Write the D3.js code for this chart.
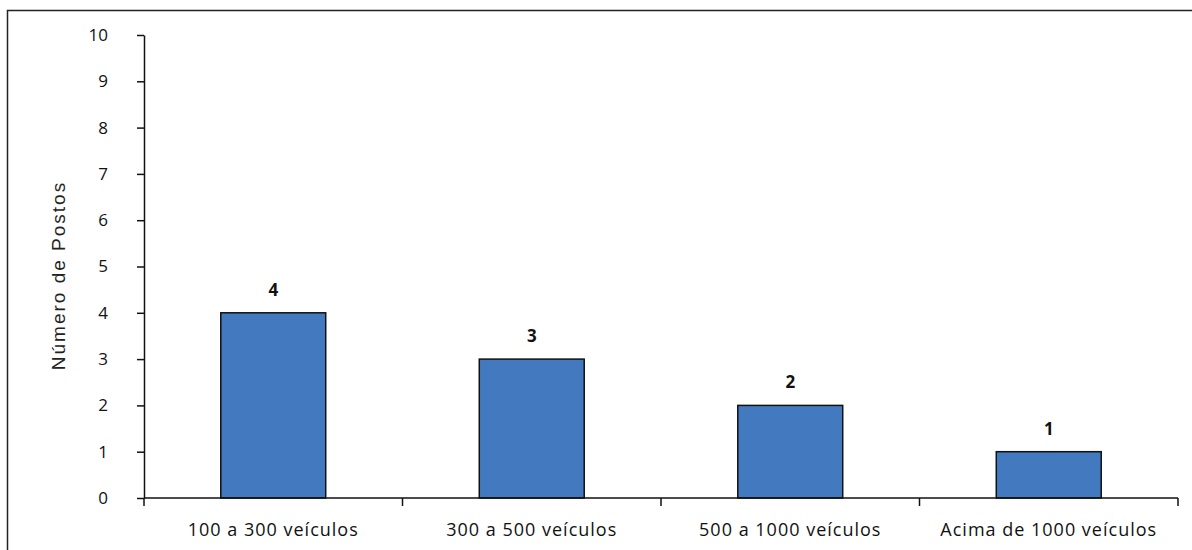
<!DOCTYPE html>
<html>
<head>
<meta charset="utf-8">
<script src="https://cdn.jsdelivr.net/npm/d3@7"></script>
<style>
  html, body { margin: 0; padding: 0; background: #fff; }
  svg { display: block; }
</style>
</head>
<body>
<svg id="chart" width="1192" height="550"></svg>
<script>
// Postos by vehicle range
const categories = ["100 a 300 veículos", "300 a 500 veículos", "500 a 1000 veículos", "Acima de 1000 veículos"];
const values = [4, 3, 2, 1];
const yTicks = [0, 1, 2, 3, 4, 5, 6, 7, 8, 9, 10];
const yTitle = "Número de Postos";

const svg = d3.select("#chart");
const W = 1192, H = 550;
const margin = { left: 144, right: 14, top: 35, bottom: 52 };
const tickFont = "'Open Sans', 'Liberation Sans', sans-serif";

// outer frame (open on right/bottom, cut by the edge)
svg.append("rect")
  .attr("x", 7.5).attr("y", 10.5)
  .attr("width", W + 10).attr("height", H + 10)
  .attr("fill", "none").attr("stroke", "#222").attr("stroke-width", 1.5);

const x = d3.scaleBand()
  .domain(categories)
  .range([margin.left, W - margin.right])
  .paddingInner(0.594).paddingOuter(0.297);

const y = d3.scaleLinear()
  .domain([0, 10])
  .range([H - margin.bottom, margin.top]);

// bars
svg.append("g").selectAll("rect")
  .data(categories)
  .join("rect")
  .attr("x", d => x(d))
  .attr("y", (d, i) => y(values[i]))
  .attr("width", x.bandwidth())
  .attr("height", (d, i) => y(0) - y(values[i]))
  .attr("fill", "#4279bf")
  .attr("stroke", "#111")
  .attr("stroke-width", 1.5);

// value labels
svg.append("g").selectAll("text")
  .data(categories)
  .join("text")
  .attr("x", d => x(d) + x.bandwidth() / 2)
  .attr("y", (d, i) => y(values[i]) - 17)
  .attr("text-anchor", "middle")
  .attr("font-family", tickFont)
  .attr("font-weight", "bold")
  .attr("font-size", 17)
  .attr("fill", "#111")
  .text((d, i) => values[i]);

// y axis
const yAxis = svg.append("g")
  .attr("transform", `translate(${margin.left},0)`)
  .call(d3.axisLeft(y).tickValues(yTicks).tickSize(7).tickPadding(29).tickSizeOuter(0));
yAxis.select(".domain").attr("stroke", "#111").attr("stroke-width", 1.5);
yAxis.selectAll(".tick line").attr("stroke", "#111").attr("stroke-width", 1.5);
yAxis.selectAll(".tick text")
  .attr("font-family", tickFont).attr("font-size", 17).attr("fill", "#111");

// x axis: line with ticks at category boundaries
const step = x.step();
const bounds = d3.range(categories.length + 1).map(i => margin.left + i * step);
const xg = svg.append("g");
xg.append("line")
  .attr("x1", margin.left).attr("x2", W - margin.right)
  .attr("y1", y(0)).attr("y2", y(0))
  .attr("stroke", "#111").attr("stroke-width", 1.5);
xg.selectAll("line.tk")
  .data(bounds)
  .join("line")
  .attr("class", "tk")
  .attr("x1", d => d).attr("x2", d => d)
  .attr("y1", y(0)).attr("y2", y(0) + 8)
  .attr("stroke", "#111").attr("stroke-width", 1.5);
xg.selectAll("text")
  .data(categories)
  .join("text")
  .attr("x", d => x(d) + x.bandwidth() / 2)
  .attr("y", y(0) + 38)
  .attr("text-anchor", "middle")
  .attr("font-family", tickFont)
  .attr("font-size", 18)
  .attr("letter-spacing", 1)
  .attr("fill", "#111")
  .text(d => d);

// y title
svg.append("text")
  .attr("transform", `translate(65,${(y(0) + y(10)) / 2 + 9}) rotate(-90)`)
  .attr("text-anchor", "middle")
  .attr("font-family", "'Liberation Sans', Arial, sans-serif")
  .attr("font-size", 19)
  .attr("letter-spacing", 2)
  .attr("fill", "#222")
  .text(yTitle);
</script>
</body>
</html>
